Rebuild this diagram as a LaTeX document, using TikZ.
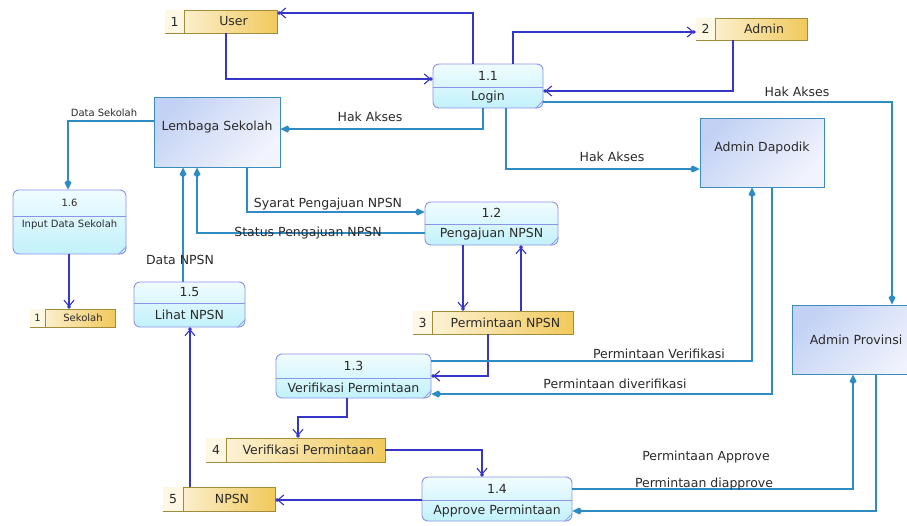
\documentclass[tikz,border=0pt]{standalone}
\usepackage{fontspec}
\setmainfont{DejaVu Sans}
\usetikzlibrary{arrows.meta,fit}

\definecolor{flowB}{HTML}{3535C8}
\definecolor{flowS}{HTML}{2E8CC2}
\definecolor{entLine}{HTML}{3B8DBE}
\definecolor{entA}{HTML}{C3D2F4}
\definecolor{entB}{HTML}{F2F4FD}
\definecolor{procLine}{HTML}{8C94E6}
\definecolor{procA}{HTML}{F0FCFF}
\definecolor{procB}{HTML}{C2F1FB}
\definecolor{stLine}{HTML}{A08C3A}
\definecolor{stA}{HTML}{FDF7E4}
\definecolor{stB}{HTML}{F1C95C}
\definecolor{txt}{HTML}{2A2A2A}

\tikzset{
  lbl/.style={text=txt, inner sep=0pt, font=\fontsize{12.5}{14}\selectfont},
  small/.style={text=txt, inner sep=0pt, font=\fontsize{10}{12}\selectfont},
  entity/.style={draw=entLine, line width=1pt, top color=entA, bottom color=entB,
    shading angle=45, inner sep=0pt, text=txt, font=\fontsize{12.5}{14}\selectfont},
  process/.style={draw=procLine, line width=0.9pt, rounded corners=6pt,
    top color=procA, bottom color=procB, inner sep=0pt},
  store/.style={draw=stLine, line width=0.9pt, left color=stA, right color=stB, inner sep=0pt},
  bflow/.style={draw=flowB, line width=1.1pt,
    -{Straight Barb[length=6pt,width=10pt,sep=-2pt]Circle[length=3.5pt]}},
  sflow/.style={draw=flowS, line width=1.1pt,
    -{Kite[length=10pt,width=7pt,inset=3pt]}},
}

% process: name, x1, y1, x2, y2, divider y, number, label, label y
\newcommand{\procbox}[9]{%
  \node[process, fit={(#2,#3)(#4,#5)}] (#1) {};
  \draw[procLine, line width=0.8pt] (#1.west |- 0,#6) -- (#1.east |- 0,#6);
  \draw[procLine, line width=0.6pt] ([xshift=-8pt]#1.south east) -- ([yshift=8pt]#1.south east);
  \node[lbl] (#1-num) at ({(#2+#4)/2},{(#3+#6)/2}) {#7};
  \node[lbl] (#1-txt) at ({(#2+#4)/2},#9) {#8};
}

% data store: name, x1, y1, x2, y2, divider x, number, label, font style
\newcommand{\storebox}[9]{%
  \node[store, fit={(#2,#3)(#4,#5)}] (#1) {};
  \fill[stA] ([shift={(0.5pt,-0.5pt)}]#1.north west) rectangle ([yshift=0.5pt]#1.south -| #6,0);
  \draw[stLine, line width=0.9pt] (#1.north -| #6,0) -- (#1.south -| #6,0);
  \node[#9] (#1-num) at ({(#2+#6)/2},{(#3+#5)/2}) {#7};
  \node[#9] (#1-txt) at ({(#6+#4)/2+3},{(#3+#5)/2}) {#8};
}

\begin{document}
\begin{tikzpicture}[x=1pt,y=-1pt]
\useasboundingbox (0,0) rectangle (907,525);
\clip (0,0) rectangle (907,525);
\fill[white] (0,0) rectangle (907,525);

% external entities
\node[entity, fit={(154,97)(280,167)}] (lem) {Lembaga Sekolah};
\node[entity, fit={(700,118)(824,187)}] (dap) {Admin Dapodik};
\node[entity, fit={(792,305)(930,374)}] (prov) {};
\node[lbl] (prov-txt) at (856,340) {Admin Provinsi};

% processes
\procbox{p11}{433}{64}{543}{108}{87}{1.1}{Login}{97.5}
\procbox{p12}{425}{202}{558}{245}{224}{1.2}{Pengajuan NPSN}{234.5}
\procbox{p13}{276}{354}{431}{398}{378}{1.3}{Verifikasi Permintaan}{388}
\procbox{p14}{422}{477}{572}{521}{500}{1.4}{Approve Permintaan}{511}
\procbox{p15}{134}{282}{245}{327}{303}{1.5}{Lihat NPSN}{315}
\procbox{p16}{13}{190}{126}{254}{216}{\fontsize{10}{12}\selectfont 1.6}{\fontsize{10}{12}\selectfont Input Data Sekolah}{225}

% data stores
\storebox{su}{165}{10}{277}{33}{184}{1}{User}{lbl}
\storebox{sa}{696}{18}{807}{40}{715}{2}{Admin}{lbl}
\storebox{s3}{413}{311}{573}{334}{432}{3}{Permintaan NPSN}{lbl}
\storebox{s4}{206}{438}{385}{462}{226}{4}{Verifikasi Permintaan}{lbl}
\storebox{s5}{163}{487}{275}{511}{183}{5}{NPSN}{lbl}
\storebox{ssek}{30}{309}{115}{327}{45}{1}{Sekolah}{small}

% flows to and from data stores
\draw[bflow] (p11.north -| 473,0) |- (su.east |- 0,13);
\draw[bflow] (su.south -| 226,0) |- (p11.west |- 0,79);
\draw[bflow] (p11.north -| 513,0) |- (sa.west |- 0,32);
\draw[bflow] (sa.south -| 733,0) |- (p11.east |- 0,91);
\draw[bflow] (p12.south -| 463,0) -- (s3.north -| 463,0);
\draw[bflow] (s3.north -| 521,0) -- (p12.south -| 521,0);
\draw[bflow] (s3.south -| 488,0) |- (p13.east |- 0,376);
\draw[bflow] (p13.south -| 347,0) |- (298,417) -- (s4.north -| 298,0);
\draw[bflow] (s4.east) -| (p14.north -| 482,0);
\draw[bflow] (p14.west |- 0,500) -- (s5.east |- 0,500);
\draw[bflow] (s5.north -| 190,0) -- (p15.south -| 190,0);
\draw[bflow] (p16.south -| 69,0) -- (ssek.north -| 69,0);

% flows between entities and processes
\draw[sflow] (p11.south -| 483,0) |- (lem.east |- 0,129);
\node[lbl] (l1) at (370,117) {Hak Akses};
\draw[sflow] (p11.south -| 506,0) |- (dap.west |- 0,169);
\node[lbl] (l2) at (612,157) {Hak Akses};
\draw[sflow] (p11.east |- 0,102) -| (prov.north -| 892,0);
\node[lbl] (l3) at (797,92) {Hak Akses};
\draw[sflow] (lem.west |- 0,121) -| (p16.north -| 68,0);
\node[small] (l4) at (104,113) {Data Sekolah};
\draw[sflow] (lem.south -| 247,0) |- (p12.west |- 0,212);
\node[lbl] (l5) at (328,204) {Syarat Pengajuan NPSN};
\draw[sflow] (p12.west |- 0,233) -| (lem.south -| 197,0);
\node[lbl] (l6) at (308,233) {Status Pengajuan NPSN};
\draw[sflow] (p15.north -| 183,0) -- (lem.south -| 183,0);
\node[lbl] (l7) at (180,260) {Data NPSN};
\draw[sflow] (dap.south -| 772,0) |- (p13.east |- 0,394);
\node[lbl] (l8) at (615,384) {Permintaan diverifikasi};
\draw[sflow] (p13.east |- 0,361) -| (dap.south -| 752,0);
\node[lbl] (l9) at (659,354) {Permintaan Verifikasi};
\draw[sflow] (p14.east |- 0,489) -| (prov.south -| 853,0);
\node[lbl] (l10) at (706,457) {Permintaan Approve};
\node[lbl] (l11) at (704,484) {Permintaan diapprove};
\draw[sflow] (prov.south -| 876,0) |- (p14.east |- 0,511);
\end{tikzpicture}
\end{document}
